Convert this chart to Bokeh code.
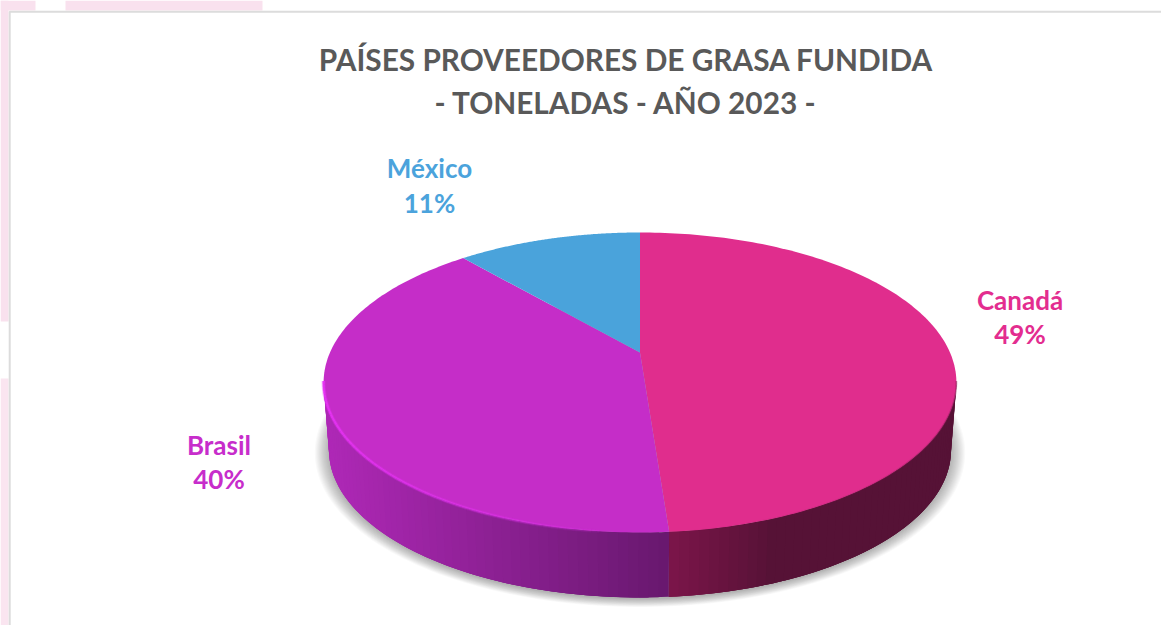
import numpy as np
from bokeh.plotting import figure
from bokeh.models import Range1d
from bokeh.core.properties import value
from bokeh.embed import file_html
from bokeh.resources import INLINE

# ---- data (share of tonnes, clockwise from 12 o'clock)
categories = ["Canadá", "Brasil", "México"]
shares = [48.8, 39.8, 11.4]
top_colors = ["#E02D8D", "#C52DC8", "#4AA3DB"]
label_colors = ["#E32D8F", "#C72DCB", "#4BA3DC"]
title_lines = ["PAÍSES PROVEEDORES DE GRASA FUNDIDA", "- TONELADAS - AÑO 2023 -"]

# ---- 3D look of the pie
CX, APEX_Y = 639.5, 352.0
A, B, K = 310.0, 144.0, 0.2      # circle -> perspective ellipse
DEPTH, SHRINK = 68.0, 0.983

def top(theta):
    u, v = np.sin(theta), np.cos(theta)
    d = 1 + K * v
    return CX + A * u / d, APEX_Y - B * v / d

def bottom(theta, grow=0.0, dy=0.0):
    x, y = top(theta)
    s = SHRINK + grow
    return CX + s * (x - CX), APEX_Y + DEPTH + dy + s * (y - APEX_Y)

def mix(c1, c2, t):
    t = min(max(t, 0.0), 1.0)
    return "#%02x%02x%02x" % tuple(int(round(a + (b - a) * t)) for a, b in zip(c1, c2))

p = figure(width=1161, height=625, output_backend="svg", toolbar_location=None,
           x_range=Range1d(0, 1161), y_range=Range1d(625, 0), min_border=0)
p.axis.visible = False
p.grid.visible = False
p.outline_line_color = None
p.background_fill_color = "#FFFFFF"
p.border_fill_color = "#FFFFFF"

# frame remains of the slide behind the chart
PINK = "#F9E1EE"
p.quad(left=[0, 65], right=[35, 262], top=[0, 0], bottom=[10, 10], fill_color=PINK, line_color=None)
p.quad(left=[0, 0], right=[8, 8], top=[0, 378], bottom=[321, 625], fill_color=[PINK, "#FAE5F0"], line_color=None)
p.line([9.2, 9.2, 1161], [625, 11.2, 11.2], line_color="#DCDCDC", line_width=2)

# soft shadow below the pie
ring = np.linspace(0, 2 * np.pi, 241)
n_shadow = 14
for i in range(n_shadow):
    g = 0.045 * (1 - i / (n_shadow - 1))
    sx, sy = bottom(ring, grow=g, dy=1.5)
    p.patch(sx, sy, fill_color="#000000", fill_alpha=0.024, line_color=None)

# cumulated angles
edges = np.cumsum([0.0] + shares) / sum(shares) * 2 * np.pi

# side wall, thin strips (each overlapping the next one to hide seams)
def side_color(idx, x):
    if idx == 0:
        return mix((124, 21, 74), (86, 18, 54), (x - 668) / 105)
    return mix((174, 40, 182), (104, 24, 110), (x - 328) / 340)

xs, ys, cols = [], [], []
for idx in (0, 1):
    lo = max(edges[idx], np.radians(101))
    hi = min(edges[idx + 1], np.radians(259))
    n = max(int(np.degrees(hi - lo) / 1.5), 1)
    th = np.linspace(lo, hi, n + 1)
    for k in range(n):
        a, b = th[k], th[min(k + 3, n)]
        arc = np.linspace(a, b, 5)
        xt, yt = top(arc)
        xb, yb = bottom(arc[::-1])
        xs.append(list(xt) + list(xb))
        ys.append(list(yt) + list(yb))
        cols.append(side_color(idx, top(th[k] + 0.5 * (th[1] - th[0]))[0]))
p.patches(xs, ys, fill_color=cols, line_color=None)

# top faces
for i in range(len(shares)):
    th = np.linspace(edges[i], edges[i + 1], 160)
    x, y = top(th)
    p.patch(np.r_[CX, x], np.r_[APEX_Y, y], fill_color=top_colors[i], line_color=None)

# highlights on the rim
th = np.radians(np.linspace(259, 186, 60))
mx, my, al = [], [], []
for j, (a, b) in enumerate(zip(th[:-1], th[1:])):
    x, y = top(np.array([a, b]))
    mx.append(list(x))
    my.append(list(y))
    al.append(0.95 * (1 - j / 60) ** 0.6)
p.multi_line(mx, my, line_color="#E733F5", line_alpha=[v * 0.35 for v in al], line_width=4.0)
p.multi_line(mx, my, line_color="#E733F5", line_alpha=al, line_width=2.2)

th = np.radians(np.linspace(101, 172, 60))
mx, my, al = [], [], []
for j, (a, b) in enumerate(zip(th[:-1], th[1:])):
    x, y = top(np.array([a, b]))
    mx.append(list(x))
    my.append(list(y))
    al.append(0.55 * (1 - j / 60))
p.multi_line(mx, my, line_color="#8A1A55", line_alpha=al, line_width=1.6)

# texts
FONT = value("Lato")
p.text(x=[625.5, 625.5], y=[58.5, 102], text=title_lines, text_color="#595959",
       text_font=FONT, text_font_style="bold", text_font_size="29.8px",
       text_align="center", text_baseline="middle")

label_x = [1019.5, 218.5, 429]
label_y = [299, 444, 167.5]
pct_y = [333, 478, 202]
p.text(x=label_x, y=label_y, text=categories, text_color=label_colors,
       text_font=FONT, text_font_style="bold", text_font_size="26px",
       text_align="center", text_baseline="middle")
p.text(x=label_x, y=pct_y, text=[f"{round(v)}%" for v in shares], text_color=label_colors,
       text_font=FONT, text_font_style="bold", text_font_size="26px",
       text_align="center", text_baseline="middle")

open("out.html", "w").write(file_html(p, INLINE))
